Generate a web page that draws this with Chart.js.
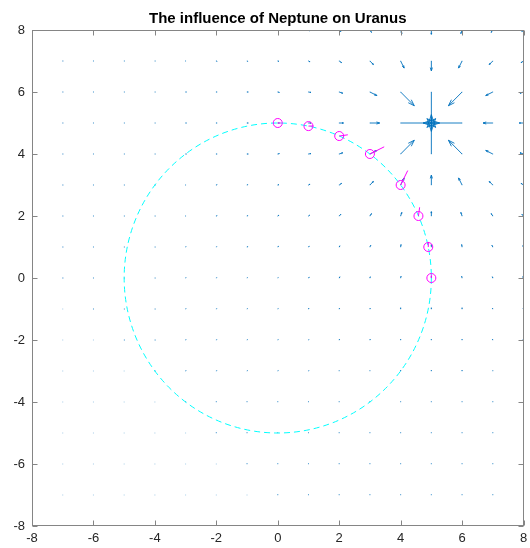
<!DOCTYPE html>
<html>
<head>
<meta charset="utf-8">
<script src="https://cdn.jsdelivr.net/npm/chart.js@4"></script>
<style>
  html, body { margin: 0; padding: 0; background: #fff; }
  #wrap { width: 530px; height: 548px; }
</style>
</head>
<body>
<div id="wrap"><canvas id="myChart"></canvas></div>
<script>
// grid of the force field (columns x, rows y from top to bottom)
const gridX = [-8, -7, -6, -5, -4, -3, -2, -1, 0, 1, 2, 3, 4, 5, 6, 7, 8];
const gridY = [8, 7, 6, 5, 4, 3, 2, 1, 0, -1, -2, -3, -4, -5, -6, -7, -8];

// x component of the pull towards Neptune, one row per gridY
const fieldU = [
  [.01, .01, .01, .01, .01, .01, .02, .02, .03, .03, .04, .04, .03, 0, -.03, -.04, -.04],
  [.01, .01, .01, .01, .01, .01, .02, .02, .03, .04, .06, .09, .09, 0, -.09, -.09, -.06],
  [.01, .01, .01, .01, .01, .02, .02, .03, .04, .06, .09, .18, .35, 0, -.35, -.18, -.09],
  [.01, .01, .01, .01, .01, .02, .02, .03, .04, .06, .11, .25, 1, null, -1, -.25, -.11],
  [.01, .01, .01, .01, .01, .02, .02, .03, .04, .06, .09, .18, .35, 0, -.35, -.18, -.09],
  [.01, .01, .01, .01, .01, .01, .02, .02, .03, .04, .06, .09, .09, 0, -.09, -.09, -.06],
  [.01, .01, .01, .01, .01, .01, .02, .02, .03, .03, .04, .04, .03, 0, -.03, -.04, -.04],
  [.01, .01, .01, .01, .01, .01, .01, .02, .02, .02, .02, .02, .01, 0, -.01, -.02, -.02],
  [0, .01, .01, .01, .01, .01, .01, .01, .01, .02, .02, .01, .01, 0, -.01, -.01, -.02],
  [0, 0, .01, .01, .01, .01, .01, .01, .01, .01, .01, .01, 0, 0, 0, -.01, -.01],
  [0, 0, 0, .01, .01, .01, .01, .01, .01, .01, .01, .01, 0, 0, 0, -.01, -.01],
  [0, 0, 0, 0, .01, .01, .01, .01, .01, .01, 0, 0, 0, 0, 0, 0, 0],
  [0, 0, 0, 0, 0, 0, 0, 0, 0, 0, 0, 0, 0, 0, 0, 0, 0],
  [0, 0, 0, 0, 0, 0, 0, 0, 0, 0, 0, 0, 0, 0, 0, 0, 0],
  [0, 0, 0, 0, 0, 0, 0, 0, 0, 0, 0, 0, 0, 0, 0, 0, 0],
  [0, 0, 0, 0, 0, 0, 0, 0, 0, 0, 0, 0, 0, 0, 0, 0, 0],
  [0, 0, 0, 0, 0, 0, 0, 0, 0, 0, 0, 0, 0, 0, 0, 0, 0]
];

// y component of the pull towards Neptune
const fieldV = [
  [0, 0, 0, 0, 0, 0, -.01, -.01, -.02, -.02, -.04, -.06, -.09, -.11, -.09, -.06, -.04],
  [0, 0, 0, 0, 0, 0, -.01, -.01, -.01, -.02, -.04, -.09, -.18, -.25, -.18, -.09, -.04],
  [0, 0, 0, 0, 0, 0, 0, 0, -.01, -.01, -.03, -.09, -.35, -1, -.35, -.09, -.03],
  [0, 0, 0, 0, 0, 0, 0, 0, 0, 0, 0, 0, 0, null, 0, 0, 0],
  [0, 0, 0, 0, 0, 0, 0, 0, .01, .01, .03, .09, .35, 1, .35, .09, .03],
  [0, 0, 0, 0, 0, 0, .01, .01, .01, .02, .04, .09, .18, .25, .18, .09, .04],
  [0, 0, 0, 0, 0, 0, .01, .01, .02, .02, .04, .06, .09, .11, .09, .06, .04],
  [0, 0, 0, 0, 0, .01, .01, .01, .02, .02, .03, .04, .06, .06, .06, .04, .03],
  [0, 0, 0, 0, 0, .01, .01, .01, .01, .02, .03, .03, .04, .04, .04, .03, .03],
  [0, 0, 0, 0, 0, .01, .01, .01, .01, .02, .02, .02, .03, .03, .03, .02, .02],
  [0, 0, 0, 0, 0, .01, .01, .01, .01, .01, .02, .02, .02, .02, .02, .02, .02],
  [0, 0, 0, 0, 0, .01, .01, .01, .01, .01, .01, .01, .02, .02, .02, .01, .01],
  [0, 0, 0, 0, 0, .01, .01, .01, .01, .01, .01, .01, .01, .01, .01, .01, .01],
  [0, 0, 0, 0, 0, 0, .01, .01, .01, .01, .01, .01, .01, .01, .01, .01, .01],
  [0, 0, 0, 0, 0, 0, 0, .01, .01, .01, .01, .01, .01, .01, .01, .01, .01],
  [0, 0, 0, 0, 0, 0, 0, 0, .01, .01, .01, .01, .01, .01, .01, .01, .01],
  [0, 0, 0, 0, 0, 0, 0, 0, 0, .01, .01, .01, .01, .01, .01, .01, .01]
];

// Neptune and the orbit of Uranus
const neptuneX = [5];
const neptuneY = [5];
const orbitCenter = [0, 0];
const orbitRadius = 5;

// Uranus positions and the force on each
const planetX = [0, 1, 2, 3, 4, 4.58, 4.9, 5];
const planetY = [5, 4.9, 4.58, 4, 3, 2, 1, 0];
const planetU = [0.04, 0.0625, 0.108, 0.179, 0.089, 0.015, 0.0016, 0];
const planetV = [0, 0.0016, 0.015, 0.089, 0.179, 0.108, 0.0625, 0.04];

const tickValues = [-8, -6, -4, -2, 0, 2, 4, 6, 8];

const fieldScale = 1.27;
const forceScale = 2.6;
const fontFamily = "'Liberation Sans', Arial, Helvetica, sans-serif";

function arrow(ctx, x0, y0, x1, y1) {
  ctx.beginPath();
  ctx.moveTo(x0, y0);
  ctx.lineTo(x1, y1);
  const dx = x1 - x0, dy = y1 - y0;
  // head like matlab quiver: 1/3 of the length, 1/3 wide
  const a = 0.33, b = 0.33;
  ctx.moveTo(x1 - a * (dx + b * dy), y1 - a * (dy - b * dx));
  ctx.lineTo(x1, y1);
  ctx.lineTo(x1 - a * (dx - b * dy), y1 - a * (dy + b * dx));
  ctx.stroke();
}

const quiverPlugin = {
  id: 'quiver',
  beforeDatasetsDraw(chart) {
    const ctx = chart.ctx;
    const xs = chart.scales.x, ys = chart.scales.y;
    const area = chart.chartArea;
    ctx.save();
    ctx.beginPath();
    ctx.rect(area.left, area.top, area.right - area.left, area.bottom - area.top);
    ctx.clip();

    // field arrows
    ctx.strokeStyle = '#0072BD';
    ctx.lineWidth = 0.9;
    for (let r = 0; r < gridY.length; r++) {
      for (let c = 0; c < gridX.length; c++) {
        const u = fieldU[r][c], v = fieldV[r][c];
        if (u === null || v === null) continue;
        const px = xs.getPixelForValue(gridX[c]);
        const py = ys.getPixelForValue(gridY[r]);
        ctx.fillStyle = 'rgba(0,114,189,0.35)';
        ctx.fillRect(px - 0.5, py - 0.5, 1, 1);
        if (u === 0 && v === 0) continue;
        const qx = xs.getPixelForValue(gridX[c] + u * fieldScale);
        const qy = ys.getPixelForValue(gridY[r] + v * fieldScale);
        arrow(ctx, px, py, qx, qy);
      }
    }

    // orbit
    const cx = xs.getPixelForValue(orbitCenter[0]);
    const cy = ys.getPixelForValue(orbitCenter[1]);
    const rx = xs.getPixelForValue(orbitCenter[0] + orbitRadius) - cx;
    const ry = cy - ys.getPixelForValue(orbitCenter[1] + orbitRadius);
    ctx.strokeStyle = '#00FFFF';
    ctx.lineWidth = 1;
    ctx.setLineDash([6, 4]);
    ctx.beginPath();
    ctx.ellipse(cx, cy, rx, ry, 0, 0, Math.PI * 2);
    ctx.stroke();
    ctx.setLineDash([]);
    ctx.restore();
  },
  afterDatasetsDraw(chart) {
    const ctx = chart.ctx;
    const xs = chart.scales.x, ys = chart.scales.y;
    const area = chart.chartArea;
    ctx.save();
    // force on Uranus
    ctx.strokeStyle = '#FF00FF';
    ctx.lineWidth = 1;
    for (let i = 0; i < planetX.length; i++) {
      ctx.beginPath();
      ctx.moveTo(xs.getPixelForValue(planetX[i]), ys.getPixelForValue(planetY[i]));
      ctx.lineTo(xs.getPixelForValue(planetX[i] + planetU[i] * forceScale),
                 ys.getPixelForValue(planetY[i] + planetV[i] * forceScale));
      ctx.stroke();
    }

    // box and inward ticks
    ctx.strokeStyle = '#858585';
    ctx.lineWidth = 1;
    const L = Math.round(area.left) + 0.5, R = Math.round(area.right) - 0.5;
    const T = Math.round(area.top) + 0.5, B = Math.round(area.bottom) - 0.5;
    ctx.strokeRect(L, T, R - L, B - T);
    ctx.beginPath();
    tickValues.forEach(t => {
      const px = Math.round(xs.getPixelForValue(t)) + 0.5;
      ctx.moveTo(px, B); ctx.lineTo(px, B - 5);
      ctx.moveTo(px, T); ctx.lineTo(px, T + 5);
      const py = Math.round(ys.getPixelForValue(t)) + 0.5;
      ctx.moveTo(L, py); ctx.lineTo(L + 5, py);
      ctx.moveTo(R, py); ctx.lineTo(R - 5, py);
    });
    ctx.stroke();
    ctx.restore();
  }
};

const data = {
  datasets: [{
    label: 'Uranus',
    data: planetX.map((x, i) => ({ x: x, y: planetY[i] })),
    pointStyle: 'circle',
    pointRadius: 4.5,
    borderColor: '#FF00FF',
    backgroundColor: 'rgba(0,0,0,0)',
    borderWidth: 1,
    showLine: false
  }, {
    label: 'Neptune',
    data: neptuneX.map((x, i) => ({ x: x, y: neptuneY[i] })),
    pointStyle: 'star',
    pointRadius: 5.5,
    borderColor: '#0072BD',
    backgroundColor: '#0072BD',
    borderWidth: 1,
    showLine: false
  }]
};

const config = {
  type: 'scatter',
  data: data,
  options: {
    responsive: true,
    maintainAspectRatio: false,
    animation: false,
    layout: {
      padding: { top: 0, right: 3, bottom: 0, left: 0 }
    },
    scales: {
      x: {
        type: 'linear',
        min: -8,
        max: 8,
        afterFit(scale) {
          scale.height = 22;
        },
        grid: { display: false, drawTicks: false },
        border: { display: false },
        ticks: {
          stepSize: 2,
          padding: 0,
          maxRotation: 0,
          color: '#262626',
          font: { family: fontFamily, size: 13, lineHeight: 1.9 }
        }
      },
      y: {
        type: 'linear',
        min: -8,
        max: 8,
        afterFit(scale) {
          scale.width = 32;
        },
        grid: { display: false, drawTicks: false },
        border: { display: false },
        ticks: {
          stepSize: 2,
          padding: 7,
          color: '#262626',
          font: { family: fontFamily, size: 13 }
        }
      }
    },
    plugins: {
      legend: { display: false },
      tooltip: { enabled: false },
      title: {
        display: true,
        fullSize: false,
        text: 'The influence of Neptune on Uranus',
        color: '#000',
        font: { family: fontFamily, size: 15, weight: 'bold' },
        padding: { top: 10, bottom: 2 }
      }
    }
  },
  plugins: [quiverPlugin]
};

var myChart = new Chart(
  document.getElementById('myChart'),
  config
);
</script>
</body>
</html>
